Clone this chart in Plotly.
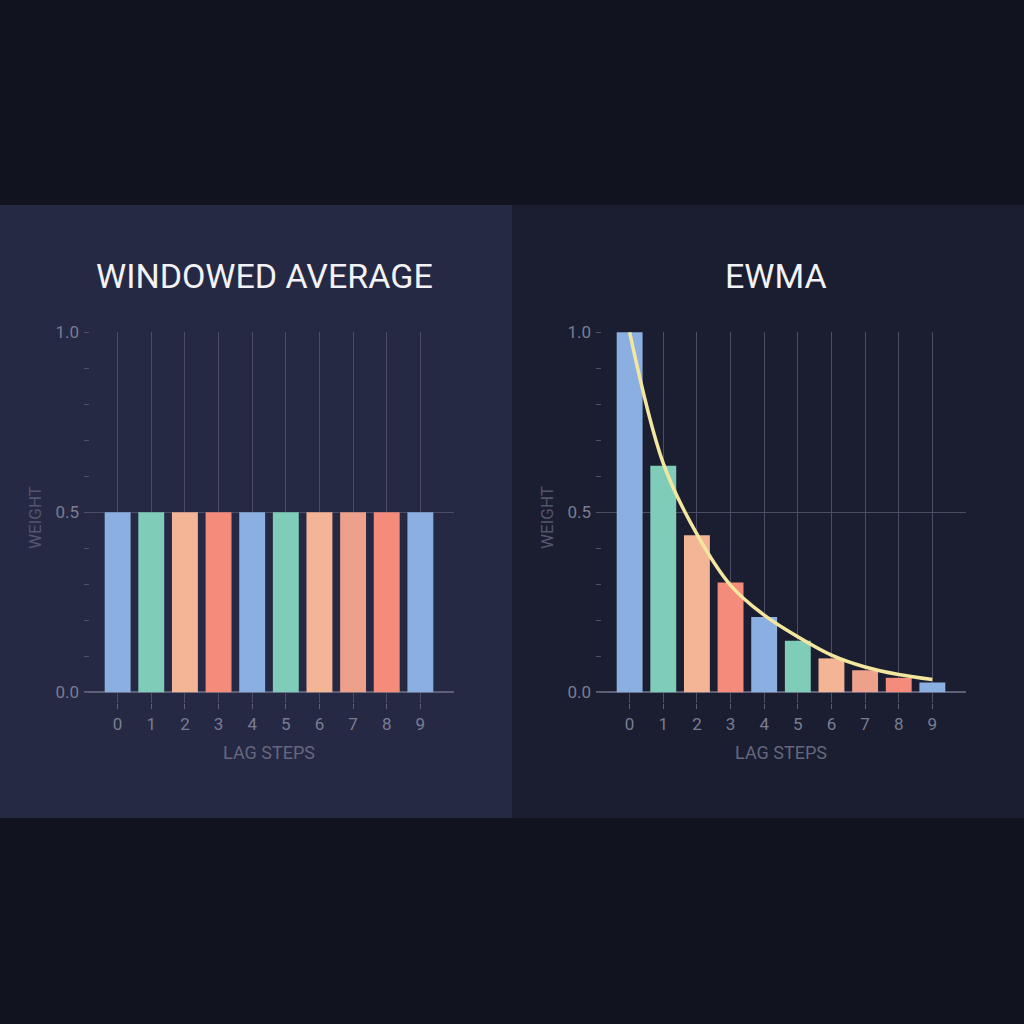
"""Windowed average vs EWMA lag weights."""

from __future__ import annotations

import plotly.graph_objects as go

LAGS = list(range(10))
TICK_LABELS = [str(i) for i in LAGS]

WINDOW_WEIGHTS = [0.5, 0.5, 0.5, 0.5, 0.5, 0.5, 0.5, 0.5, 0.5, 0.5]
EWMA_WEIGHTS = [1.0, 0.629, 0.436, 0.305, 0.209, 0.143, 0.094, 0.061, 0.040, 0.027]
EWMA_CURVE = [1.0, 0.636, 0.439, 0.297, 0.214, 0.154, 0.103, 0.070, 0.049, 0.035]

BAR_COLORS = [
    "#8aafe0", "#7fccb9", "#f4b597", "#f48b7b", "#8aafe0",
    "#7fccb9", "#f4b597", "#eda08a", "#f48b7b", "#8aafe0",
]

PANEL_TITLES = ["WINDOWED AVERAGE", "EWMA"]

BG = "#11131e"
GRID = "#4a4d65"
TICK_FONT = dict(family="Roboto", size=17, color="#7a7d92")
XTITLE_FONT = dict(family="Roboto", size=18, color="#64677e")
YTITLE_FONT = dict(family="Roboto", size=17, color="#53566e")


def px_x(p: float) -> float:
    return p / 1024


def px_y(p: float) -> float:
    return 1 - p / 1024


def axis_pair(domain: list[float]) -> tuple[dict, dict]:
    xaxis = dict(
        domain=domain,
        range=[-1, 10],
        tickmode="array",
        tickvals=LAGS,
        ticktext=TICK_LABELS,
        ticks="outside",
        ticklen=5,
        tickwidth=1,
        tickcolor="#5a5d74",
        ticklabelstandoff=1,
        showgrid=True,
        gridcolor=GRID,
        gridwidth=1,
        showline=False,
        zeroline=False,
        automargin=False,
        tickfont=TICK_FONT,
        title=dict(text="LAG STEPS", font=XTITLE_FONT, standoff=12),
        fixedrange=True,
    )
    yaxis = dict(
        domain=[px_y(703), px_y(332)],
        range=[-0.03, 1.001],
        tickmode="array",
        tickvals=[0, 0.5, 1.0],
        ticktext=["0.0", "0.5", "1.0"],
        ticks="",
        showgrid=True,
        gridcolor=GRID,
        gridwidth=1,
        zeroline=True,
        zerolinecolor="#5c5f76",
        zerolinewidth=1.5,
        showline=False,
        automargin=False,
        tickfont=TICK_FONT,
        ticklabelstandoff=4,
        minor=dict(dtick=0.1, tick0=0, ticks="inside", ticklen=5,
                   tickcolor="#4d5068", showgrid=False),
        title=dict(text="WEIGHT", font=YTITLE_FONT, standoff=9),
        fixedrange=True,
    )
    return xaxis, yaxis


fig = go.Figure()

fig.add_trace(go.Bar(
    x=LAGS, y=WINDOW_WEIGHTS, marker=dict(color=BAR_COLORS, line=dict(width=0)),
    xaxis="x", yaxis="y", showlegend=False,
))
fig.add_trace(go.Bar(
    x=LAGS, y=EWMA_WEIGHTS, marker=dict(color=BAR_COLORS, line=dict(width=0)),
    xaxis="x2", yaxis="y2", showlegend=False,
))
fig.add_trace(go.Scatter(
    x=LAGS, y=EWMA_CURVE, mode="lines",
    line=dict(color="#f3e7a0", width=3.5, shape="spline", smoothing=1.0),
    xaxis="x2", yaxis="y2", showlegend=False,
))

x1, y1 = axis_pair([px_x(84), px_x(454)])
x2, y2 = axis_pair([px_x(596), px_x(966)])
y2["anchor"] = "x2"
x2["anchor"] = "y2"

fig.update_layout(
    width=1024,
    height=1024,
    autosize=False,
    margin=dict(l=0, r=0, t=0, b=0, pad=0),
    paper_bgcolor=BG,
    plot_bgcolor="rgba(0,0,0,0)",
    bargap=0.23,
    xaxis=x1,
    yaxis=y1,
    xaxis2=x2,
    yaxis2=y2,
    shapes=[
        dict(type="rect", xref="paper", yref="paper", layer="below",
             x0=0, x1=0.5, y0=px_y(818), y1=px_y(205),
             fillcolor="#262943", line=dict(width=0)),
        dict(type="rect", xref="paper", yref="paper", layer="below",
             x0=0.5, x1=1, y0=px_y(818), y1=px_y(205),
             fillcolor="#1b1d30", line=dict(width=0)),
    ],
)

for title, cx in zip(PANEL_TITLES, [264, 776]):
    fig.add_annotation(
        text=title, xref="paper", yref="paper",
        x=px_x(cx), y=px_y(276), xanchor="center", yanchor="middle",
        showarrow=False, font=dict(family="Roboto", size=34, color="#f2f2f7"),
    )

# drop the browser's default body margin so the figure sits at 0,0
fig.write_html(
    "out.html",
    config={"displayModeBar": False},
    post_script="document.body.style.margin='0';document.body.style.background='#11131e';",
)
